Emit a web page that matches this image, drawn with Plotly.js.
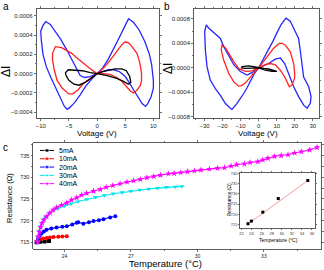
<!DOCTYPE html>
<html><head><meta charset="utf-8">
<script src="https://cdn.plot.ly/plotly-3.0.1.min.js"></script>
<style>html,body{margin:0;padding:0;background:#fff}#chart{width:324px;height:270px}</style>
</head><body><div id="chart"></div>
<script>
// ---------- Panel a : ΔI vs Voltage (±10 V) ----------
var aBlueV = [0,1,2,3,4,5,5.6,6.5,7.5,8.5,9.3,9.7,10,10,9.6,9.0,8.6,8.0,7.3,6.5,5.8,5.0,4.0,3.0,2.0,1.0,0,
  -1,-2,-3,-4,-4.8,-5.3,-5.8,-6.3,-7.1,-8.2,-9.0,-9.6,-9.9,-10,-9.6,-9.1,-8.3,-7.4,-6.5,-5.5,-4.6,-3.8,-3.0,-2.2,-1.2,0];
var aBlueI = [0,0.00006,0.00015,0.00026,0.00038,0.0005,0.00057,0.00053,0.00045,0.00033,0.0002,0.00009,-0.00007,-0.00015,-0.00024,-0.00031,-0.00034,-0.00031,-0.00025,-0.00017,-0.0001,-0.00003,0.00002,0.00004,0.00004,0.00002,0,
  -0.00006,-0.00013,-0.00022,-0.0003,-0.00035,-0.00037,-0.00034,-0.00028,-0.00017,-0.00004,0.00007,0.0002,0.00035,0.00044,0.0005,0.00054,0.00051,0.00044,0.00036,0.00026,0.00016,0.00006,-0.00002,-0.00004,-0.00003,0];
var aRedV = [0,1.2,2.35,3.5,4.4,5,5.6,6.2,7.1,7.6,7.9,7.9,7.7,7.1,6.5,5.9,5.2,4.4,3.5,2.4,1.2,0,
  -1.2,-2.3,-3.5,-4.5,-5.3,-6.3,-7.4,-7.9,-7.9,-7.6,-7.1,-6.2,-5.0,-4.3,-3.4,-2.4,-1.2,0];
var aRedI = [0,0.00006,0.00014,0.00023,0.0003,0.00033,0.00032,0.00028,0.00021,0.00011,0.0,-0.00007,-0.00012,-0.00017,-0.0002,-0.00018,-0.00013,-0.00008,-0.00004,-0.00001,0.0,0,
  0.00005,0.0001,0.00016,0.00021,0.00024,0.00027,0.00028,0.00021,0.00014,0.00004,-0.00007,-0.00015,-0.00021,-0.00021,-0.00017,-0.0001,-0.00005,0];
var aBlackV = [0,0.9,1.8,3.2,4.4,5.2,5.8,6.0,5.6,4.7,3.5,1.8,0,-1.2,-2.6,-4.1,-5.1,-5.6,-5.5,-5.0,-4.1,-3.2,-2.1,-1.1,0];
var aBlackI = [0,0.00002,0.00003,0.00005,0.00005,0.00003,-0.00003,-0.00009,-0.00011,-0.00008,-0.00005,-0.00002,0,0.00001,0.00003,0.00004,0.00004,0.00001,-0.00002,-0.00007,-0.00011,-0.00012,-0.00009,-0.00005,0];

// ---------- Panel b : ΔI vs Voltage (±30 V) ----------
var bBlueV = [0,2.8,5.5,8,10.1,12.5,15.1,17.5,20.3,22.1,23,24,24.9,27.7,29,28.6,26.8,24.9,22.1,19.4,16.6,14.4,12,9.2,5.5,2.5,0,
  -2.5,-4.6,-6.5,-8.3,-10,-12,-14.8,-15.7,-18.5,-21.2,-24,-26.8,-28.6,-29.5,-29.9,-29,-27.7,-25,-23,-21.2,-19.4,-16.6,-13.8,-10.1,-6.5,-3.7,0];
var bBlueI = [0,0.00015,0.00029,0.00044,0.00057,0.00071,0.00081,0.00076,0.00059,0.00048,0.00029,0.00002,-0.00015,-0.00031,-0.00047,-0.00058,-0.00066,-0.00061,-0.00047,-0.00031,-0.00009,0.00007,0.00016,0.00014,0.00007,0.00003,0,
  -0.0001,-0.00023,-0.00033,-0.00042,-0.0005,-0.00058,-0.00068,-0.00066,-0.00058,-0.00045,-0.00034,-0.0002,0.00002,0.00029,0.00059,0.0007,0.00065,0.00058,0.00054,0.00048,0.00035,0.00021,0.00005,-0.00006,-0.00012,-0.00008,0];
var bRedV = [0,2.8,5.5,8.3,11.4,13,14.8,17.5,19.4,19.9,19.9,18.5,17,14.8,12,9.2,6.5,3.7,0,
  -3.7,-7.4,-9.5,-11.1,-13.8,-16.6,-19.4,-20.7,-20.3,-18.5,-16.6,-13.8,-11.1,-7.4,-3.7,0];
var bRedI = [0,0.0001,0.00021,0.00032,0.0004,0.0004,0.00037,0.00026,0.00007,-0.00008,-0.00017,-0.00028,-0.00031,-0.00017,-0.00004,0.00005,0.00007,0.00005,0,
  -0.00012,-0.00025,-0.00029,-0.0003,-0.00023,-0.00009,0.00013,0.00029,0.00037,0.00033,0.00024,0.0001,-0.00001,-0.00006,-0.00005,0];
var bBlackV = [-9.6,-9.2,-5.5,-2.5,0,3,5.5,9.2,10.1,7.4,3.7,0,-3.7,-7.4,-9.6];
var bBlackI = [0,0.00002,0.00003,0.00002,0,-0.00001,-0.00002,-0.00005,-0.00006,-0.00006,-0.00004,0,-0.00001,-0.00001,0];

// ---------- Panel c : Resistance vs Temperature ----------
var seriesNames = ['5mA','10mA','20mA','30mA','40mA'];
var t5 = [22.74,22.9,23.1,23.3];
var r5 = [715.0,715.1,715.2,715.3];
var t10 = [22.77,22.81,22.9,23.04,23.2,23.34,23.5,23.72,23.9,24.1];
var r10 = [715.0,715.5,715.7,715.9,716.0,716.1,716.2,716.3,716.35,716.4];
var t20 = [22.75,22.81,22.88,22.96,23.07,23.19,23.4,23.64,23.9,24.1,24.35,24.55,24.62,24.85,25.1,25.31,25.55,25.76,26.06,26.29];
var r20 = [715.0,715.9,716.5,717.0,717.5,717.9,718.2,718.4,718.6,718.7,719.1,719.5,719.6,719.3,719.6,719.9,720.1,720.3,720.7,721.0];
var t30 = [22.77,22.8,22.85,22.9,22.97,23.05,23.15,23.3,23.5,23.7,24.0,24.3,24.6,25.0,25.4,25.8,26.2,26.6,27.0,27.4,27.8,28.2,28.6,29.0,29.3];
var r30 = [715.1,716.3,717.6,718.6,719.5,720.2,720.9,721.6,722.3,722.8,723.4,723.9,724.4,724.9,725.4,725.8,726.2,726.5,726.8,727.1,727.3,727.5,727.7,727.8,727.9];
var t40 = [22.77,22.81,22.86,22.92,22.99,23.07,23.19,23.34,23.49,23.64,23.87,24.1,24.32,24.55,24.78,25.0,25.31,25.61,25.88,26.18,26.51,26.82,27.12,27.42,27.72,28.03,28.33,
  28.69,28.95,29.25,29.55,29.86,30.16,30.54,30.91,31.22,31.52,31.77,32.12,32.38,32.73,32.95,33.18,33.48,33.78,34.09,34.39,34.69,35.07,35.4];
var r40 = [715.1,716.3,717.4,718.5,719.4,720.2,720.9,721.8,722.5,723.0,723.6,724.1,724.8,725.3,725.9,726.3,726.8,727.2,727.7,728.1,728.5,728.9,729.2,729.5,729.9,730.2,730.5,
  730.8,730.9,731.1,731.3,731.5,731.7,731.9,732.1,732.2,732.6,732.9,733.1,733.4,733.6,734.0,734.4,734.8,735.0,735.2,735.6,735.9,736.3,736.9];

// inset: final resistance vs final temperature, with linear fit
var insetT = [23.29,23.96,26.23,29.3,35.17];
var insetR = [715.3,716.6,721.0,727.7,736.6];
var fitT = [23.29,35.17];
var fitR = [715.2,736.6];

var legendColors = ['#000000','#ff0000','#0000ff','#00e5ee','#ff00ff'];
var legendSymbols = ['square','circle','circle','triangle-down','star'];

// ---------------------------------------------------------
var F = 'Liberation Sans, Arial, sans-serif';
var W = 324, H = 270;
function px(x){return x/W;}
function py(y){return 1 - y/H;}

var traces = [];
function loop(x, y, color, xa, ya){
  traces.push({x:x, y:y, xaxis:xa, yaxis:ya, mode:'lines', line:{color:color, width:1.3}, showlegend:false, hoverinfo:'skip'});
}
loop(aBlueV, aBlueI, '#2525ff', 'x', 'y');
loop(aRedV, aRedI, '#ff2020', 'x', 'y');
loop(aBlackV, aBlackI, '#000000', 'x', 'y');
loop(bBlueV, bBlueI, '#2525ff', 'x2', 'y2');
loop(bRedV, bRedI, '#ff2020', 'x2', 'y2');
loop(bBlackV, bBlackI, '#000000', 'x2', 'y2');

var cT = [t5, t10, t20, t30, t40];
var cR = [r5, r10, r20, r30, r40];
var cSize = [4, 4, 4, 4.5, 5];
for (var i = 0; i < 5; i++) {
  traces.push({x:cT[i], y:cR[i], xaxis:'x3', yaxis:'y3', mode:'lines+markers', name:seriesNames[i],
    line:{color:legendColors[i], width:1.1},
    marker:{color:legendColors[i], symbol:legendSymbols[i], size:cSize[i]},
    showlegend:false, hoverinfo:'skip'});
}
// inset
traces.push({x:fitT, y:fitR, xaxis:'x4', yaxis:'y4', mode:'lines', line:{color:'#f49a9a', width:1}, showlegend:false, hoverinfo:'skip'});
traces.push({x:insetT, y:insetR, xaxis:'x4', yaxis:'y4', mode:'markers', marker:{color:'#000', symbol:'square', size:3}, showlegend:false, hoverinfo:'skip'});

// hand-made legend (Plotly legend rows are too tall at this size)
var annotations = [];
for (var k = 0; k < 5; k++) {
  traces.push({x:[0,1,2], y:[k,k,k], xaxis:'x5', yaxis:'y5', mode:'lines+markers',
    line:{color:legendColors[k], width:1},
    marker:{color:legendColors[k], symbol:legendSymbols[k], size:[0,cSize[k],0]},
    showlegend:false, hoverinfo:'skip'});
  annotations.push({xref:'paper', yref:'y5', x:px(57), y:k, text:seriesNames[k], showarrow:false,
    xanchor:'left', yanchor:'middle', font:{family:F, size:7, color:'#000'}});
}

function ann(text, x, y, size, opts){
  var a = {xref:'paper', yref:'paper', x:px(x), y:py(y), text:text, showarrow:false,
    xanchor:'center', yanchor:'middle', font:{family:F, size:size, color:'#000'}};
  for (var key in (opts||{})) a[key] = opts[key];
  annotations.push(a);
}
ann('a', 6, 7, 10);
ann('b', 167, 7, 10);
ann('c', 5, 147, 10);
ann('Voltage (V)', 97, 133.5, 8);
ann('Voltage (V)', 258, 133.5, 8);
ann('ΔI', 6, 72, 12, {textangle:-90});
ann('ΔI', 168, 69, 12, {textangle:-90});
ann('Resistance (Ω)', 9, 198, 7.5, {textangle:-90});
ann('Temperature (°C)', 165, 263.5, 9.5);
ann('Temperature (°C)', 278, 239.5, 5);
ann('Resistance (Ω)', 228.5, 200, 5, {textangle:-90});

function ax(domain, range, dtick, extra){
  var o = {domain:domain, range:range, dtick:dtick, showgrid:false, zeroline:false,
    showline:true, linecolor:'#333', linewidth:0.8, mirror:'ticks', ticks:'outside', ticklen:2,
    tickwidth:0.7, tickcolor:'#333', tickfont:{family:F, size:6, color:'#222'}};
  for (var key in (extra||{})) o[key] = extra[key];
  return o;
}

var layout = {
  width:W, height:H, margin:{l:0, r:0, t:0, b:0},
  paper_bgcolor:'#fff', plot_bgcolor:'rgba(0,0,0,0)', showlegend:false,
  font:{family:F, size:6, color:'#000'},
  xaxis: ax([px(36.5), px(159)], [-10.75, 11], 5, {anchor:'y', tick0:0, minor:{dtick:2.5, ticklen:1.2, ticks:'outside', tickcolor:'#333'}}),
  yaxis: ax([py(118), py(9)], [-0.00046, 0.00067], 0.0002, {anchor:'x', tickformat:'.4f', minor:{dtick:0.0001, ticklen:1.2, ticks:'outside', tickcolor:'#333'}}),
  xaxis2: ax([px(194), px(319)], [-35.8, 33.4], 10, {anchor:'y2', tick0:0, minor:{dtick:5, ticklen:1.2, ticks:'outside', tickcolor:'#333'}}),
  yaxis2: ax([py(118), py(9)], [-0.00082, 0.00096], 0.0004, {anchor:'x2', tickformat:'.4f', minor:{dtick:0.0002, ticklen:1.2, ticks:'outside', tickcolor:'#333'}}),
  xaxis3: ax([px(33.3), px(321.5)], [22.59, 35.6], 3, {anchor:'y3', tick0:24, tickfont:{family:F, size:5, color:'#222'}, minor:{dtick:1.5, ticklen:1.2, ticks:'outside', tickcolor:'#333'}}),
  yaxis3: ax([py(249), py(143)], [713.45, 737.9], 5, {anchor:'x3', tickfont:{family:F, size:5.5, color:'#222'}, minor:{dtick:2.5, ticklen:1.2, ticks:'outside', tickcolor:'#333'}}),
  xaxis4: ax([px(240), px(315)], [21.7, 36.6], 2, {anchor:'y4', tick0:22, ticklen:1, tickfont:{family:F, size:4, color:'#333'}}),
  yaxis4: ax([py(228), py(173)], [713.2, 740.3], 5, {anchor:'x4', ticklen:1, tickfont:{family:F, size:4, color:'#333'}}),
  xaxis5: {domain:[px(40), px(54)], range:[0,2], visible:false, fixedrange:true, anchor:'y5'},
  yaxis5: {domain:[py(187.8), py(146.3)], range:[4.5,-0.5], visible:false, fixedrange:true, anchor:'x5'},
  annotations: annotations
};

Plotly.newPlot('chart', traces, layout, {staticPlot:true, displayModeBar:false});
</script></body></html>
